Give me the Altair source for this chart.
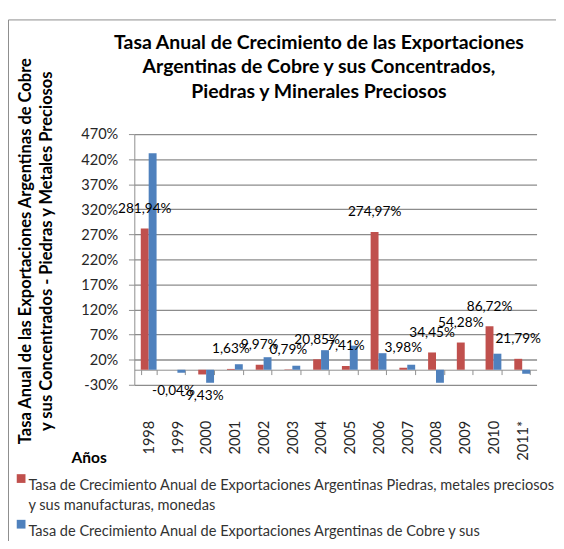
import altair as alt
import pandas as pd

years = ["1998", "1999", "2000", "2001", "2002", "2003", "2004",
         "2005", "2006", "2007", "2008", "2009", "2010", "2011*"]
piedras = [281.94, -0.04, -9.43, 1.63, 9.97, 0.79, 20.85,
           7.41, 274.97, 3.98, 34.45, 54.28, 86.72, 21.79]
cobre = [432, -6, -26, 11, 25, 8, 39, 48, 33, 10, -26, 0, 32, -8]

s1 = "Tasa de Crecimiento Anual de Exportaciones Argentinas Piedras, metales preciosos y sus manufacturas, monedas"
s2 = "Tasa de Crecimiento Anual de Exportaciones Argentinas de Cobre y sus Concentrados"
series = [s1, s2]
colors = ["#C0504D", "#4F81BD"]
y_ticks = [-30, 20, 70, 120, 170, 220, 270, 320, 370, 420, 470]

rows = []
for yr, a, b in zip(years, piedras, cobre):
    rows.append({"year": yr, "serie": s1, "value": a})
    rows.append({"year": yr, "serie": s2, "value": b})
df = pd.DataFrame(rows)

lab = pd.DataFrame({
    "year": years,
    "serie": [s1] * len(years),
    "value": piedras,
    "label": [f"{v:.2f}".replace(".", ",") + "%" for v in piedras],
})

FONT = "Lato"
GRID = "#8c8c8c"

x_enc = alt.X(
    "year:N", sort=years,
    scale=alt.Scale(paddingInner=0.45, paddingOuter=0.225),
    axis=alt.Axis(
        title="Años", titleFont=FONT, titleFontSize=16, titleFontWeight="bold",
        titleColor="black", titleX=-47, titleY=90, titleAlign="center",
        titleBaseline="middle", titleAngle=0,
        labelAngle=-90, labelFont=FONT, labelFontSize=15, labelColor="#262626",
        labelPadding=47, tickBand="extent", tickSize=5, tickColor=GRID,
        domainColor=GRID, offset=-15.5, grid=False, labelFlush=False,
    ),
)
y_enc = alt.Y(
    "value:Q",
    scale=alt.Scale(domain=[-30, 470], nice=False, zero=False),
    axis=alt.Axis(
        values=y_ticks, tickCount=11, labelExpr="datum.value + '%'",
        title=["Tasa Anual de las Exportaciones  Argentinas de Cobre",
               "y sus Concentrados - Piedras y Metales Preciosos"],
        titleFont=FONT, titleFontSize=17, titleFontWeight="bold", titleColor="black",
        titleX=-112, titleY=120, titleBaseline="middle", titleAlign="center",
        titleAngle=270, titleLineHeight=22,
        labelFont=FONT, labelFontSize=15, labelColor="#262626", labelPadding=11,
        labelOverlap=False, tickSize=6, tickColor=GRID, domainColor=GRID,
        grid=True, gridColor=GRID, gridWidth=1.3,
    ),
)

label_expr = (
    "datum.label == '" + s1 + "' ? "
    "['Tasa de Crecimiento Anual de Exportaciones Argentinas Piedras, metales preciosos', 'y sus manufacturas, monedas'] : "
    "['Tasa de Crecimiento Anual de Exportaciones Argentinas de Cobre y sus', 'Concentrados']"
)

bars = alt.Chart(df).mark_bar().encode(
    x=x_enc,
    xOffset=alt.XOffset("serie:N", sort=series),
    y=y_enc,
    color=alt.Color(
        "serie:N", sort=series,
        scale=alt.Scale(domain=series, range=colors),
        legend=alt.Legend(
            title=None, orient="none", legendX=-124, legendY=347,
            direction="vertical", symbolType="square", symbolSize=81,
            symbolStrokeWidth=0, labelFont=FONT, labelFontSize=15,
            labelColor="#333333", labelLimit=2000,
            labelExpr=label_expr, rowPadding=4, labelOffset=0,
            labelBaseline="top",
        ),
    ),
)

pos = alt.Chart(lab).transform_filter("datum.value >= 0").mark_text(
    font=FONT, fontSize=14, color="black", dy=-20
).encode(
    x=x_enc,
    xOffset=alt.XOffset("serie:N", sort=series),
    y=y_enc,
    text="label:N",
)
neg = alt.Chart(lab).transform_filter("datum.value < 0").mark_text(
    font=FONT, fontSize=14, color="black", dy=22
).encode(
    x=x_enc,
    xOffset=alt.XOffset("serie:N", sort=series),
    y=y_enc,
    text="label:N",
)

frame = alt.Chart(pd.DataFrame({"a": [0]})).mark_rect(
    fillOpacity=0, stroke="#8a8a8a", strokeWidth=1
).encode(
    x=alt.value(-129.5), x2=alt.value(800),
    y=alt.value(-117.5), y2=alt.value(800),
)

chart = alt.layer(bars, pos, neg, frame).properties(
    width=414, height=258,
    padding={"left": 130, "top": 122, "right": 20, "bottom": 153},
    autosize=alt.AutoSizeParams(type="none"),
    title=alt.Title(
        text=["Tasa Anual de Crecimiento de las Exportaciones",
              "Argentinas de Cobre y sus Concentrados,",
              "Piedras y Minerales  Preciosos"],
        font=FONT, fontSize=20, fontWeight="bold", color="black",
        anchor="middle", dx=-17, offset=-85, lineHeight=25.5,
    ),
).configure(
    style={"guide-label": {"lineHeight": 20}}
).configure_view(stroke=None).configure_axis(grid=False)

chart.save("out.html", embed_options={"renderer": "svg", "actions": False})
